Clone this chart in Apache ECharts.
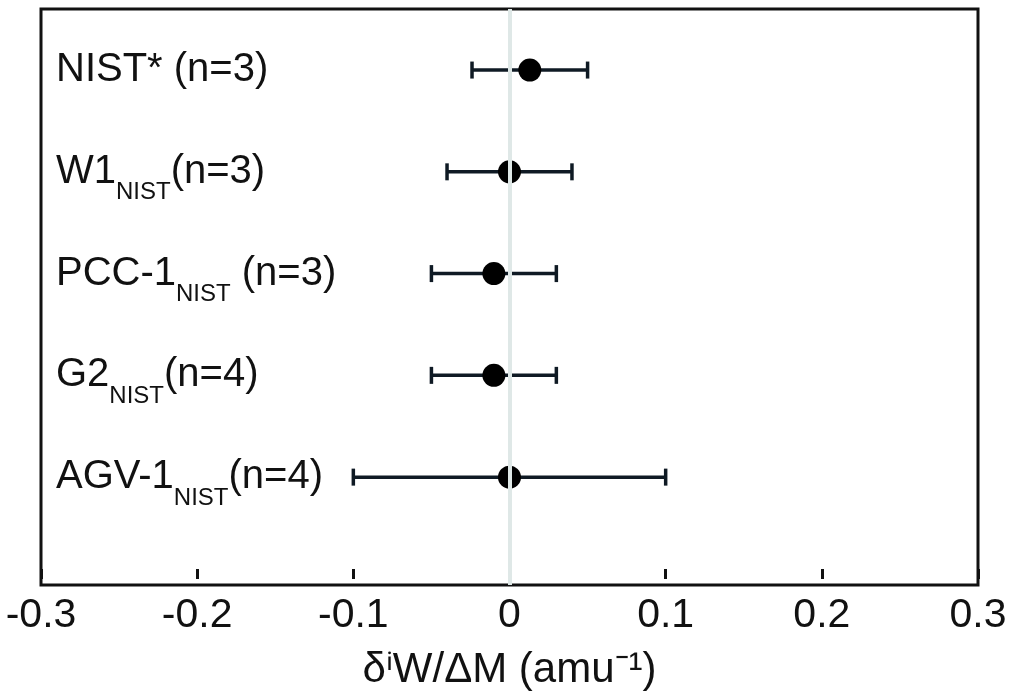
<!DOCTYPE html>
<html>
<head>
<meta charset="utf-8">
<script src="https://cdn.jsdelivr.net/npm/echarts@6/dist/echarts.min.js"></script>
<style>
  html, body { margin: 0; padding: 0; background: #fff; }
  #chart { width: 1015px; height: 693px; }
</style>
</head>
<body>
<div id="chart"></div>
<script>
// 样品名（从上到下），用 rich 文本写下标
var sampleNames = [
  '{m|NIST* (n=3)}',
  '{m|W1}{s|NIST}{m|(n=3)}',
  '{m|PCC-1}{s|NIST}{m| (n=3)}',
  '{m|G2}{s|NIST}{m|(n=4)}',
  '{m|AGV-1}{s|NIST}{m|(n=4)}'
]
// 行号，底部为 1
var rows = [5, 4, 3, 2, 1]
// 平均值与误差（半宽）
var means = [0.013, 0, -0.01, -0.01, 0]
var errs = [0.037, 0.04, 0.04, 0.04, 0.1]
var xTicks = [-0.3, -0.2, -0.1, 0, 0.1, 0.2, 0.3]

var dotData = rows.map(function (r, i) { return [means[i], r] })
var barData = rows.map(function (r, i) { return [r, means[i] - errs[i], means[i] + errs[i]] })
var labelData = rows.map(function (r, i) { return { value: [xTicks[0], r], name: sampleNames[i] } })

var mCharts = echarts.init(document.getElementById('chart'))
var option = {
  animation: false,
  grid: {
    left: 41,
    right: 37,
    top: 9,
    bottom: 108,
    outerBoundsMode: 'none',
    containLabel: false,
    show: true,
    borderColor: '#111',
    borderWidth: 3
  },
  xAxis: {
    type: 'value',
    min: xTicks[0],
    max: xTicks[xTicks.length - 1],
    interval: 0.1,
    name: 'δⁱW/ΔM (amu⁻¹)',
    nameLocation: 'middle',
    nameGap: 64,
    nameTextStyle: { fontSize: 42, color: '#111', fontFamily: 'Liberation Sans' },
    axisLine: { show: false },
    axisTick: { show: true, inside: true, length: 10, lineStyle: { color: '#111', width: 3 } },
    axisLabel: {
      fontSize: 41,
      color: '#111',
      fontFamily: 'Liberation Sans',
      margin: 10,
      formatter: function (v) { return Math.round(v * 10) / 10 + '' }
    },
    splitLine: { show: false }
  },
  yAxis: {
    type: 'value',
    min: -0.06,
    max: 5.6,
    show: false
  },
  series: [
    {
      type: 'custom',
      silent: true,
      data: barData,
      renderItem: function (params, api) {
        var y = api.value(0)
        var p1 = api.coord([api.value(1), y])
        var p2 = api.coord([api.value(2), y])
        var c = 8.5
        var st = { stroke: '#0f1a24', lineWidth: 3.5 }
        return {
          type: 'group',
          children: [
            { type: 'line', shape: { x1: p1[0], y1: p1[1], x2: p2[0], y2: p2[1] }, style: st },
            { type: 'line', shape: { x1: p1[0], y1: p1[1] - c, x2: p1[0], y2: p1[1] + c }, style: st },
            { type: 'line', shape: { x1: p2[0], y1: p2[1] - c, x2: p2[0], y2: p2[1] + c }, style: st }
          ]
        }
      },
      markLine: {
        silent: true,
        symbol: 'none',
        label: { show: false },
        lineStyle: { color: '#dfe8e7', width: 4, type: 'solid' },
        data: [{ xAxis: 0 }]
      },
      z: 3
    },
    {
      type: 'scatter',
      data: dotData,
      symbol: 'circle',
      symbolSize: 23,
      itemStyle: { color: '#000', opacity: 1 },
      z: 4
    },
    {
      type: 'scatter',
      data: labelData,
      symbolSize: 0,
      silent: true,
      label: {
        show: true,
        position: 'right',
        distance: 15,
        color: '#111',
        opacity: 1,
        formatter: function (p) { return p.name },
        rich: {
          m: { fontSize: 40, lineHeight: 66, color: '#111', fontFamily: 'Liberation Sans', verticalAlign: 'middle' },
          s: { fontSize: 24, lineHeight: 24, color: '#111', fontFamily: 'Liberation Sans', verticalAlign: 'bottom' }
        }
      },
      z: 5
    }
  ]
}
mCharts.setOption(option)
</script>
</body>
</html>
